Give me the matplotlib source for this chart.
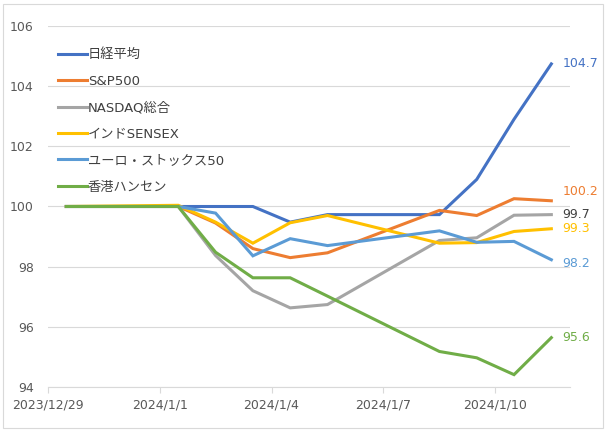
import datetime as dt
import matplotlib
matplotlib.use("Agg")
import matplotlib.pyplot as plt
import matplotlib.dates as mdates
from matplotlib.patches import Rectangle
from matplotlib.ticker import FuncFormatter

plt.rcParams['font.family'] = ['DejaVu Sans', 'Noto Sans CJK JP']

# trading dates (weekend 1/6, 1/7 and 12/30, 12/31 not in the data)
dates = [dt.datetime(2023, 12, 29), dt.datetime(2024, 1, 1), dt.datetime(2024, 1, 2),
         dt.datetime(2024, 1, 3), dt.datetime(2024, 1, 4), dt.datetime(2024, 1, 5),
         dt.datetime(2024, 1, 8), dt.datetime(2024, 1, 9), dt.datetime(2024, 1, 10),
         dt.datetime(2024, 1, 11)]

nikkei = [100, 100, 100, 100, 99.48, 99.73, 99.73, 100.9, 102.9, 104.74]
sp500 = [100, 100, 99.45, 98.6, 98.3, 98.46, 99.87, 99.7, 100.26, 100.19]
nasdaq = [100, 100, 98.37, 97.2, 96.63, 96.74, 98.87, 98.96, 99.71, 99.73]
sensex = [100, 100.04, 99.48, 98.78, 99.46, 99.7, 98.78, 98.8, 99.17, 99.26]
eurostoxx = [100, 100, 99.78, 98.36, 98.93, 98.7, 99.19, 98.81, 98.84, 98.23]
hangseng = [100, 100, 98.48, 97.63, 97.63, 97.02, 95.18, 94.97, 94.41, 95.64]

names = ['日経平均', 'S&P500', 'NASDAQ総合', 'インドSENSEX', 'ユーロ・ストックス50', '香港ハンセン']
series = [nikkei, sp500, nasdaq, sensex, eurostoxx, hangseng]
colors = ['#4472C4', '#ED7D31', '#A5A5A5', '#FFC000', '#5B9BD5', '#70AD47']
label_colors = ['#4472C4', '#ED7D31', '#404040', '#FFC000', '#5B9BD5', '#70AD47']
label_nudge = [0, 7, 0, 0, -3, 0]  # points, to keep end labels apart

fig = plt.figure(figsize=(6.1, 4.32), dpi=100)
fig.patches.append(Rectangle((3 / 610, 4 / 432), 600 / 610, 424 / 432, transform=fig.transFigure,
                             fill=False, edgecolor='#d9d9d9', linewidth=0.8))
ax = fig.add_axes([0.0782, 0.1042, 0.8562, 0.8356])

# points sit in the middle of each day slot
xs = [d + dt.timedelta(hours=12) for d in dates]

for vals, name, c in zip(series, names, colors):
    ax.plot(xs, vals, color=c, linewidth=2.2, label=name, solid_joinstyle='miter')

for vals, c, nudge in zip(series, label_colors, label_nudge):
    ax.annotate(f'{vals[-1]:.1f}', (xs[-1], vals[-1]), xytext=(8, nudge), textcoords='offset points',
                color=c, fontsize=9, va='center', ha='left', annotation_clip=False)

ax.set_xlim(dt.datetime(2023, 12, 29), dt.datetime(2024, 1, 12))
ax.set_ylim(94, 106)
ax.set_yticks(range(94, 107, 2))
ax.xaxis.set_major_formatter(FuncFormatter(
    lambda v, p: (lambda d: f'{d.year}/{d.month}/{d.day}')(mdates.num2date(v))))
ax.set_xticks([mdates.date2num(dt.datetime(2023, 12, 29) + dt.timedelta(days=3 * i)) for i in range(5)])

ax.grid(axis='y', color='#d9d9d9', linewidth=0.8)
ax.set_axisbelow(True)
for s in ['top', 'right', 'left']:
    ax.spines[s].set_visible(False)
ax.spines['bottom'].set_color('#d9d9d9')
ax.tick_params(axis='y', length=0, pad=10, labelsize=9, labelcolor='#595959')
ax.tick_params(axis='x', length=4, color='#d9d9d9', pad=4, labelsize=9, labelcolor='#595959')

leg = ax.legend(loc='upper left', bbox_to_anchor=(0.0096, 0.953), frameon=False, fontsize=9.5,
                handlelength=2.2, handletextpad=0.05, labelspacing=1.02, borderaxespad=0)
for t in leg.get_texts():
    t.set_color('#404040')

fig.savefig('out.png', dpi=100)
